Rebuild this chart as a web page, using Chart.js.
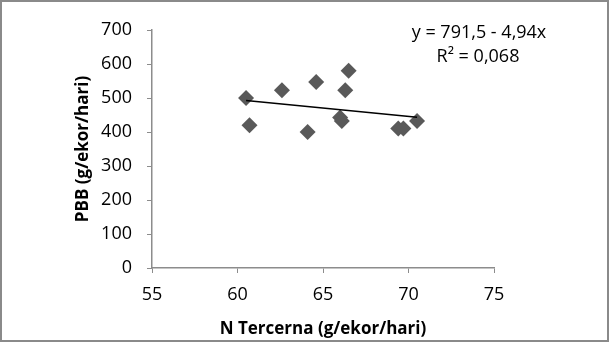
<!DOCTYPE html>
<html>
<head>
<meta charset="utf-8">
<script src="https://cdn.jsdelivr.net/npm/chart.js@4/dist/chart.umd.min.js"></script>
<style>
    html, body { margin: 0; padding: 0; background: #fff; }
    #wrap { width: 609px; height: 342px; position: relative; }
</style>
</head>
<body>
<div id="wrap"><canvas id="chart" width="609" height="342"></canvas></div>
<script>
// Data
const nTercerna = [60.5, 60.7, 62.6, 64.1, 64.6, 66.0, 66.1, 66.3, 66.5, 69.4, 69.7, 70.5];
const pbb = [500, 420, 523, 400, 547, 443, 432, 523, 580, 410, 410, 432];
const trendX = [60.5, 70.5];
const trendY = [492.6, 443.2];
const equationLines = ['y = 791,5 - 4,94x', 'R² = 0,068'];
const xTicks = [55, 60, 65, 70, 75];
const yTicks = [0, 100, 200, 300, 400, 500, 600, 700];

const FONT = "'Open Sans', 'Liberation Sans', sans-serif";

const points = nTercerna.map((x, i) => ({ x: x, y: pbb[i] }));
const trend = trendX.map((x, i) => ({ x: x, y: trendY[i] }));

// Outer frame and equation text
const extras = {
    id: 'extras',
    afterDraw(chart) {
        const ctx = chart.ctx;
        ctx.save();
        ctx.strokeStyle = '#8a8a8a';
        ctx.lineWidth = 2;
        ctx.strokeRect(1, 1, chart.width - 2, chart.height - 2);

        ctx.fillStyle = '#000';
        ctx.font = '18px ' + FONT;
        ctx.textAlign = 'center';
        ctx.textBaseline = 'middle';
        ctx.fillText(equationLines[0], 479, 33);
        ctx.fillText(equationLines[1], 478, 57);
        ctx.restore();
    }
};

new Chart(document.getElementById('chart'), {
    type: 'scatter',
    data: {
        datasets: [
            {
                label: 'PBB',
                data: points,
                pointStyle: 'rectRot',
                pointRadius: 8,
                pointBackgroundColor: '#595959',
                pointBorderColor: '#595959',
                pointBorderWidth: 0,
                order: 2
            },
            {
                label: 'Trend',
                type: 'line',
                data: trend,
                borderColor: '#000',
                borderWidth: 1.4,
                pointRadius: 0,
                fill: false,
                order: 1
            }
        ]
    },
    options: {
        responsive: false,
        animation: false,
        layout: {
            padding: { left: 73, right: 115, top: 30, bottom: 0 }
        },
        plugins: {
            legend: { display: false },
            tooltip: { enabled: false }
        },
        scales: {
            x: {
                type: 'linear',
                min: 55,
                max: 75,
                afterBuildTicks: axis => { axis.ticks = xTicks.map(v => ({ value: v })); },
                afterFit: axis => { axis.height = 74; },
                border: { color: '#8c8c8c', width: 1.5 },
                grid: {
                    display: true,
                    drawOnChartArea: false,
                    drawTicks: true,
                    tickLength: 5,
                    color: '#8c8c8c'
                },
                ticks: {
                    color: '#000',
                    font: { family: FONT, size: 18 },
                    padding: 11,
                    maxRotation: 0
                },
                title: {
                    display: true,
                    text: 'N Tercerna (g/ekor/hari)',
                    color: '#000',
                    font: { family: FONT, size: 17, weight: 'bold' },
                    padding: { top: 0, bottom: 3 }
                }
            },
            y: {
                type: 'linear',
                min: 0,
                max: 700,
                afterBuildTicks: axis => { axis.ticks = yTicks.map(v => ({ value: v })); },
                afterFit: axis => { axis.width = 79; },
                border: { color: '#8c8c8c', width: 1.5 },
                grid: {
                    display: true,
                    drawOnChartArea: false,
                    drawTicks: true,
                    tickLength: 5,
                    color: '#8c8c8c'
                },
                ticks: {
                    color: '#000',
                    font: { family: FONT, size: 18 },
                    padding: 15
                },
                title: {
                    display: true,
                    text: 'PBB (g/ekor/hari)',
                    color: '#000',
                    font: { family: FONT, size: 17, weight: 'bold' },
                    padding: { top: 0, bottom: 0 }
                }
            }
        }
    },
    plugins: [extras]
});
</script>
</body>
</html>
